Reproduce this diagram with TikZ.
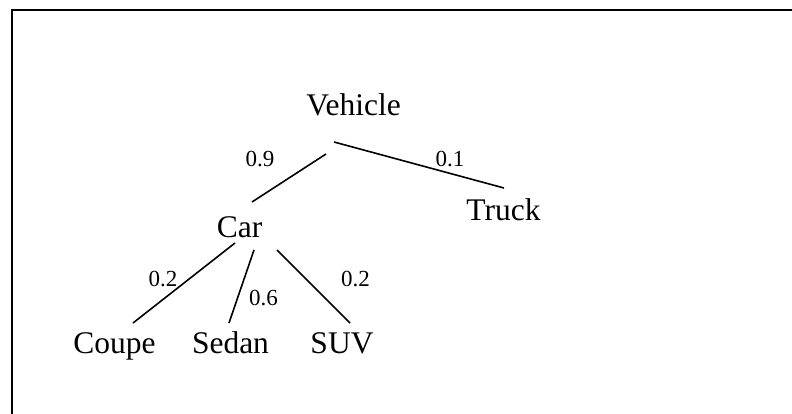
\documentclass[tikz,border=0pt]{standalone}
\usepackage{fontspec}
\setmainfont{Liberation Serif}
\begin{document}
\begin{tikzpicture}[x=1pt,y=-1pt,
  item/.style={inner sep=0pt,anchor=base,font=\fontsize{31.5}{38}\selectfont},
  prob/.style={inner sep=0pt,anchor=base,font=\fontsize{23}{28}\selectfont},
  branch/.style={line width=1.6pt},
  frame/.style={line width=2pt}]
\useasboundingbox (0,0) rectangle (792,414);

% frame along the top and left
\coordinate (fa) at (12,10);
\coordinate (fb) at (792,10);
\coordinate (fc) at (12,414);
\draw[frame] (fc) -- (fa) -- (fb);

% category names
\node[item] (vehicle) at (353.5,116) {Vehicle};
\node[item] (car)     at (239.5,237) {Car};
\node[item] (truck)   at (503.5,221) {Truck};
\node[item] (coupe)   at (114.5,353) {Coupe};
\node[item] (sedan)   at (230.5,353) {Sedan};
\node[item] (suv)     at (342,353)   {SUV};

% branch probabilities
\node[prob] (p09) at (260,167)   {0.9};
\node[prob] (p01) at (450,167)   {0.1};
\node[prob] (p02a) at (163,286)  {0.2};
\node[prob] (p06) at (263.5,305) {0.6};
\node[prob] (p02b) at (355.5,286) {0.2};

% branch end points
\coordinate (vc1) at (326,154);
\coordinate (vc2) at (252,202);
\coordinate (vt1) at (334,142);
\coordinate (vt2) at (504,188);
\coordinate (cc1) at (235,243);
\coordinate (cc2) at (133,323);
\coordinate (cs1) at (254,250);
\coordinate (cs2) at (229,323);
\coordinate (cu1) at (277,250);
\coordinate (cu2) at (350,323);

\draw[branch] (vc1) -- (vc2);
\draw[branch] (vt1) -- (vt2);
\draw[branch] (cc1) -- (cc2);
\draw[branch] (cs1) -- (cs2);
\draw[branch] (cu1) -- (cu2);
\end{tikzpicture}
\end{document}
